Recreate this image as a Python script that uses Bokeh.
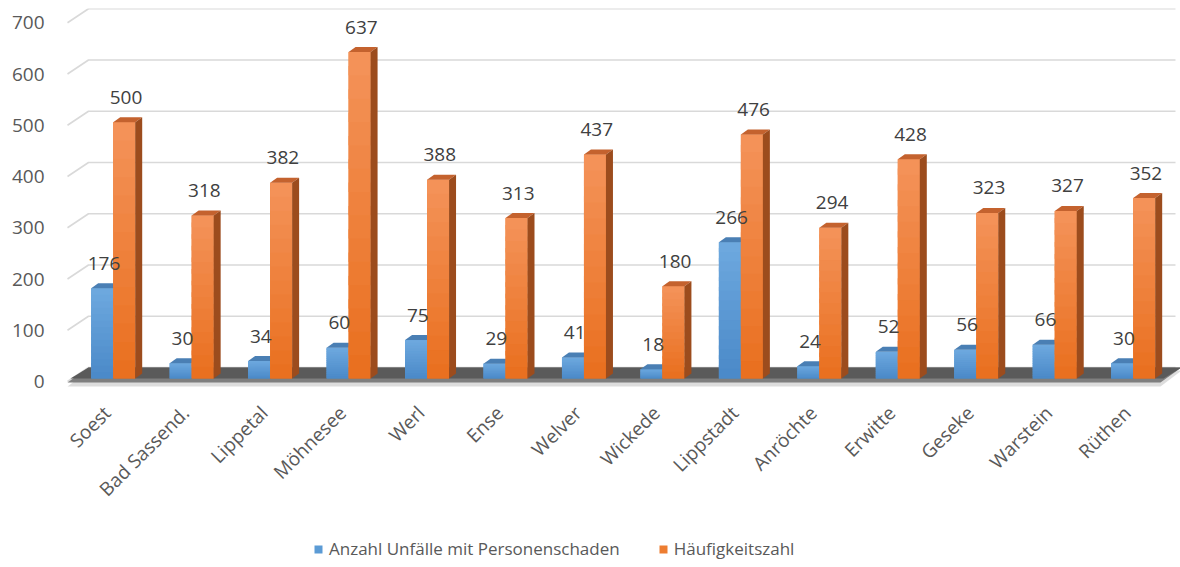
import math
from bokeh.plotting import figure
from bokeh.models import Range1d, FixedTicker, Legend, LegendItem
from bokeh.embed import file_html
from bokeh.resources import INLINE
from bokeh.core.properties import value

# ---------------- data ----------------
cities = ["Soest", "Bad Sassend.", "Lippetal", "Möhnesee", "Werl", "Ense", "Welver",
          "Wickede", "Lippstadt", "Anröchte", "Erwitte", "Geseke", "Warstein", "Rüthen"]
unfaelle = [176, 30, 34, 60, 75, 29, 41, 18, 266, 24, 52, 56, 66, 30]
haeufigkeit = [500, 318, 382, 637, 388, 313, 437, 180, 476, 294, 428, 323, 327, 352]
y_ticks = [0, 100, 200, 300, 400, 500, 600, 700]
series_names = ["Anzahl Unfälle mit Personenschaden", "Häufigkeitszahl"]

# ---------------- layout (page pixels) ----------------
W, H = 1180, 567
FIG_TOP = 0                      # page position of the figure
FIG_LEFT = 0
FL, FR, FT = 60, FIG_LEFT + W, 8  # frame edges on the page
FB = FIG_TOP + H                 # frame runs to the bottom of the figure
X0_PX, STEP_PX = 112.7, 78.46    # first category centre, category spacing
Y0_PX, PX_PER_UNIT = 381.0, 0.5125
ux = 1.0 / STEP_PX
uy = 1.0 / PX_PER_UNIT


def xd(px):
    return (px - X0_PX) * ux


def mix(c1, c2, t):
    a = [int(c1[i:i + 2], 16) for i in (1, 3, 5)]
    b = [int(c2[i:i + 2], 16) for i in (1, 3, 5)]
    return "#%02x%02x%02x" % tuple(round(a[j] + (b[j] - a[j]) * t) for j in range(3))


x_range = Range1d(xd(FL), xd(FR))
y_range = Range1d((Y0_PX - FB) * uy, (Y0_PX - FT) * uy)

p = figure(width=W, height=H, x_range=x_range, y_range=y_range,
           output_backend="svg", toolbar_location=None,
           min_border_left=FL - FIG_LEFT, min_border_right=0,
           min_border_top=FT - FIG_TOP, min_border_bottom=0)
p.outline_line_color = None
p.xgrid.visible = False
p.ygrid.visible = False
p.xaxis.visible = False
p.background_fill_color = "white"
p.border_fill_color = "white"

FONT = "Open Sans"

# 3D geometry
BX, BY = 21 * ux, 14 * uy       # back wall offset
BASE = 3 * uy                   # bars stand slightly behind the front edge
BW = 22 * ux                    # bar width
DX, DY = 7 * ux, 5 * uy         # bar depth
WALL_X = xd(67)
FLOOR_R = xd(1160)
GRID_R = xd(1175)
STRIPS = 14

# gridlines (side wall diagonal + back wall)
gx, gy = [], []
for t in y_ticks:
    gx.append([WALL_X, WALL_X + BX, GRID_R])
    gy.append([t, t + BY, t + BY])
p.multi_line(gx, gy, line_color="#D9D9D9", line_width=1.6)

# floor with soft shadow and front edge
p.patch([WALL_X, FLOOR_R, FLOOR_R + BX, WALL_X + BX],
        [-5 * uy, -5 * uy, BY - 3 * uy, BY - 3 * uy],
        fill_color="#CFCFCF", line_color=None, fill_alpha=0.7)
p.patch([WALL_X, FLOOR_R, FLOOR_R + BX, WALL_X + BX],
        [-1 * uy, -1 * uy, BY, BY],
        fill_color="#7F7F7F", line_color=None)
p.patch([WALL_X + 3 * ux, FLOOR_R + 3 * ux, FLOOR_R + BX, WALL_X + BX],
        [BASE, BASE, BY, BY],
        fill_color="#5A5A5A", line_color=None)

idx = list(range(len(cities)))


def gradient(lefts, rights, values, bottom_color, top_color):
    L, R, B, T, C = [], [], [], [], []
    for l, r, v in zip(lefts, rights, values):
        for k in range(STRIPS):
            L.append(l)
            R.append(r)
            B.append(BASE + v * k / STRIPS)
            T.append(BASE + v * min(k + 1.4, STRIPS) / STRIPS)
            C.append(mix(bottom_color, top_color, (k + 0.5) / STRIPS))
    p.quad(left=L, right=R, bottom=B, top=T, fill_color=C, line_color=None)


# blue bars
bl = [i - BW for i in idx]
br = [i for i in idx]
btop = [BASE + v for v in unfaelle]
blue_front = p.quad(left=bl, right=br, bottom=BASE, top=btop,
                    fill_color="#5B9BD5", line_color=None)
gradient(bl, br, unfaelle, "#4A89C8", "#6EA9DF")
p.patches([[l, r, r + DX, l + DX] for l, r in zip(bl, br)],
          [[t, t, t + DY, t + DY] for t in btop],
          fill_color="#4A7FB4", line_color=None)

# orange bars
ol = [i for i in idx]
orr = [i + BW for i in idx]
otop = [BASE + v for v in haeufigkeit]
orange_front = p.quad(left=ol, right=orr, bottom=BASE, top=otop,
                      fill_color="#ED7D31", line_color=None)
gradient(ol, orr, haeufigkeit, "#E96F1E", "#F4935A")
p.patches([[l, r, r + DX, l + DX] for l, r in zip(ol, orr)],
          [[t, t, t + DY, t + DY] for t in otop],
          fill_color="#C4622E", line_color=None)
p.patches([[r, r + DX, r + DX, r] for r in orr],
          [[BASE, BASE + DY, t + DY, t] for t in otop],
          fill_color="#9C4C1D", line_color=None)

# data labels
p.text(x=[i - BW / 2 + DX / 4 for i in idx], y=btop, text=[str(v) for v in unfaelle],
       text_align="center", text_baseline="alphabetic", y_offset=-25,
       text_font=value(FONT), text_font_size="19px", text_color="#404040")
p.text(x=[i + BW / 2 + DX / 4 for i in idx], y=otop, text=[str(v) for v in haeufigkeit],
       text_align="center", text_baseline="alphabetic", y_offset=-25,
       text_font=value(FONT), text_font_size="19px", text_color="#404040")

# category labels (rotated, ending at each category centre)
p.text(x=[i - 6 * ux for i in idx], y=[-28 * uy] * len(idx), text=cities,
       angle=math.pi / 4, text_align="right", text_baseline="middle",
       text_font=value(FONT), text_font_size="19px", text_color="#595959")

# value axis
p.yaxis.ticker = FixedTicker(ticks=y_ticks)
p.yaxis.axis_line_color = None
p.yaxis.major_tick_line_color = None
p.yaxis.minor_tick_line_color = None
p.yaxis.major_tick_out = 0
p.yaxis.major_label_standoff = 16
p.yaxis.major_label_text_font = FONT
p.yaxis.major_label_text_font_size = "19px"
p.yaxis.major_label_text_color = "#595959"
p.yaxis.major_label_overrides = {t: str(t) for t in y_ticks}

legend = Legend(items=[LegendItem(label=series_names[0], renderers=[blue_front]),
                       LegendItem(label=series_names[1], renderers=[orange_front])],
                orientation="horizontal", location=(313 - FL, FB - 560),
                glyph_width=10, glyph_height=10, label_height=18,
                label_standoff=6, spacing=38,
                padding=0, margin=0, border_line_color=None, background_fill_alpha=0,
                label_text_font=FONT, label_text_font_size="17px",
                label_text_color="#595959")
p.add_layout(legend, "center")

open("out.html", "w").write(file_html(p, INLINE))
